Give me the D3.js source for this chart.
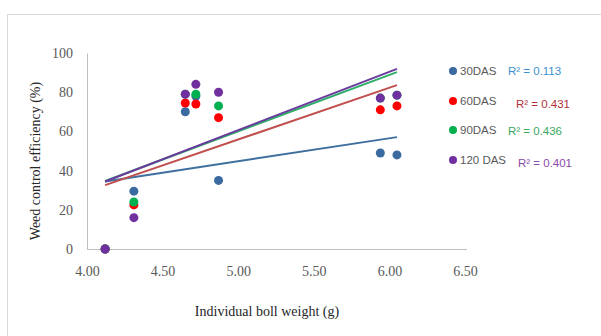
<!DOCTYPE html>
<html>
<head>
<meta charset="utf-8">
<script src="https://cdn.jsdelivr.net/npm/d3@7"></script>
<style>
  body { margin: 0; background: #fff; }
  svg { display: block; }
  .axis text { font-family: "Liberation Serif", "DejaVu Serif", serif; font-size: 14px; fill: #595959; }
</style>
</head>
<body>
<svg id="chart" width="601" height="336"></svg>
<script>
// boll weight (g) for each treatment
var bollWeight = [4.12, 4.31, 4.65, 4.72, 4.87, 5.94, 6.05];

// weed control efficiency (%) at each stage
var das30  = [0, 29.5, 70, 78, 35, 49, 48];
var das60  = [0, 22.5, 74.5, 74, 67, 71, 73];
var das90  = [0, 24, 79, 79, 73, 77, 78.5];
var das120 = [0, 16, 79, 84, 80, 77, 78.5];

var seriesNames = ['30DAS', '60DAS', '90DAS', '120 DAS'];
var rSquared = ['R\u00b2 = 0.113', 'R\u00b2 = 0.431', 'R\u00b2 = 0.436', 'R\u00b2 = 0.401'];

var xTicks = [4.0, 4.5, 5.0, 5.5, 6.0, 6.5];
var yTicks = [0, 20, 40, 60, 80, 100];

var dotColors  = ['#3a6aa0', '#ff0000', '#00b050', '#7030a0'];
var lineColors = ['#3f6f9f', '#c0504d', '#2fae6a', '#6a3a9c'];
var labelColors = ['#3d8fcf', '#b0303a', '#3aa860', '#8a4aa8'];

var allSeries = [das30, das60, das90, das120];

var svg = d3.select('#chart');

// outer chart border (only top and left visible)
svg.append('rect')
  .attr('x', 7.5).attr('y', 14.5)
  .attr('width', 620).attr('height', 340)
  .attr('fill', 'none')
  .attr('stroke', '#d9d9d9');

var x = d3.scaleLinear().domain([4, 6.5]).range([87, 465]);
var y = d3.scaleLinear().domain([0, 100]).range([249, 53]);

var xAxis = svg.append('g')
  .attr('class', 'axis')
  .attr('transform', 'translate(0,249)')
  .call(d3.axisBottom(x).tickValues(xTicks).tickSize(0).tickPadding(17)
    .tickFormat(d3.format('.2f')));
xAxis.select('.domain').attr('stroke', '#bfbfbf').attr('d', 'M87,0.5H467');

var yAxis = svg.append('g')
  .attr('class', 'axis')
  .attr('transform', 'translate(87,0)')
  .call(d3.axisLeft(y).tickValues(yTicks).tickSize(0).tickPadding(14));
yAxis.select('.domain').attr('stroke', '#bfbfbf');

svg.selectAll('.axis')
  .attr('font-family', null)
  .attr('font-size', null);
svg.selectAll('.axis .tick text').attr('fill', null);

// axis titles
svg.append('text')
  .attr('x', 267).attr('y', 316)
  .attr('text-anchor', 'middle')
  .style('font-family', '"Liberation Serif", serif')
  .style('font-size', '14px')
  .attr('fill', '#262626')
  .text('Individual boll weight (g)');

svg.append('text')
  .attr('transform', 'translate(40,161) rotate(-90)')
  .attr('text-anchor', 'middle')
  .style('font-family', '"Liberation Serif", serif')
  .style('font-size', '14px')
  .attr('fill', '#262626')
  .text('Weed control efficiency (%)');

// linear trendlines (least squares)
function fit(ys) {
  var mx = d3.mean(bollWeight), my = d3.mean(ys);
  var sxy = 0, sxx = 0;
  bollWeight.forEach(function(xv, i) {
    sxy += (xv - mx) * (ys[i] - my);
    sxx += (xv - mx) * (xv - mx);
  });
  var b = sxy / sxx;
  return function(xv) { return my + b * (xv - mx); };
}

var xExt = d3.extent(bollWeight);
allSeries.forEach(function(ys, s) {
  var f = fit(ys);
  svg.append('line')
    .attr('x1', x(xExt[0])).attr('y1', y(f(xExt[0])))
    .attr('x2', x(xExt[1])).attr('y2', y(f(xExt[1])))
    .attr('stroke', lineColors[s])
    .attr('stroke-width', 2);
});

// data points
allSeries.forEach(function(ys, s) {
  svg.append('g').selectAll('circle')
    .data(ys)
    .enter()
    .append('circle')
    .attr('cx', function(d, i) { return x(bollWeight[i]); })
    .attr('cy', function(d) { return y(d); })
    .attr('r', 4.5)
    .attr('fill', dotColors[s]);
});

// legend
var legendY = [71, 101, 130, 160];
var rX = [508, 516, 508, 518];
var rY = [71, 104, 131, 163];

var legend = svg.selectAll('.legend')
  .data(seriesNames)
  .enter()
  .append('g')
  .attr('class', 'legend')
  .attr('transform', function(d, i) { return 'translate(453,' + legendY[i] + ')'; });
legend.append('circle')
  .attr('r', 4)
  .attr('fill', function(d, i) { return dotColors[i]; });
legend.append('text')
  .attr('x', 7)
  .attr('dy', '0.35em')
  .style('font-family', '"Liberation Sans", sans-serif')
  .style('font-size', '11.5px')
  .attr('fill', '#595959')
  .text(function(d) { return d; });

svg.selectAll('.rlabel')
  .data(rSquared)
  .enter()
  .append('text')
  .attr('class', 'rlabel')
  .attr('x', function(d, i) { return rX[i]; })
  .attr('y', function(d, i) { return rY[i]; })
  .attr('dy', '0.35em')
  .style('font-family', '"Liberation Sans", sans-serif')
  .style('font-size', '11.5px')
  .attr('fill', function(d, i) { return labelColors[i]; })
  .text(function(d) { return d; });
</script>
</body>
</html>
